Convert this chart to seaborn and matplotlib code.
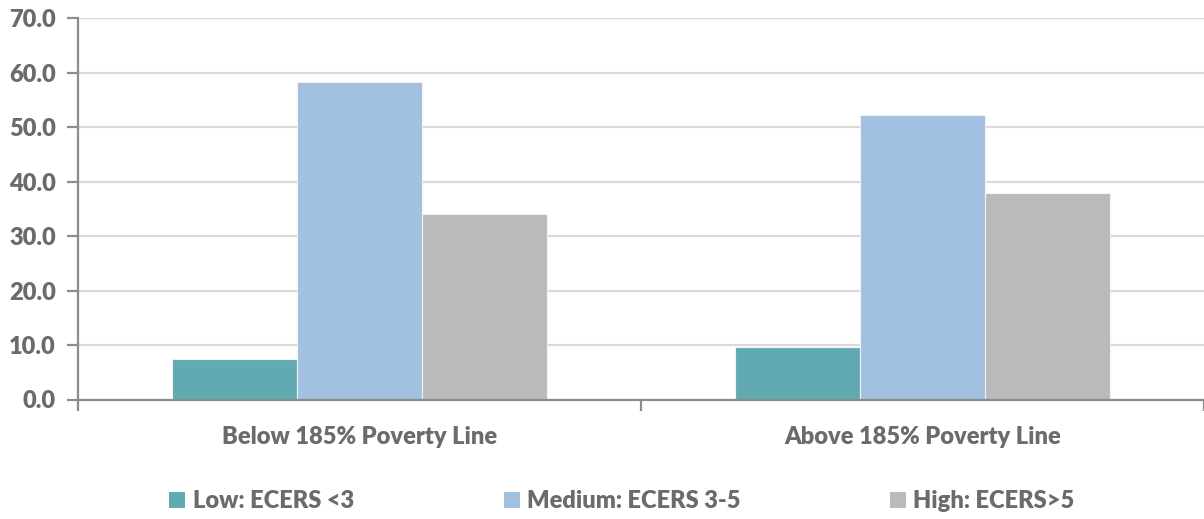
import matplotlib
matplotlib.use("Agg")
import matplotlib.pyplot as plt
import seaborn as sns
import pandas as pd
from matplotlib.patches import Patch
from matplotlib.ticker import FixedLocator

categories = ["Below 185% Poverty Line", "Above 185% Poverty Line"]
series = ["Low: ECERS <3", "Medium: ECERS 3-5", "High: ECERS>5"]
low_vals = [7.5, 9.7]
medium_vals = [58.2, 52.2]
high_vals = [34.1, 38.0]
y_ticks = [0, 10, 20, 30, 40, 50, 60, 70]

colors = ["#62AAB2", "#A2C0DF", "#BABABC"]
text_color = "#6B6B6D"

rows = []
for s, vals in zip(series, [low_vals, medium_vals, high_vals]):
    for c, v in zip(categories, vals):
        rows.append({"category": c, "series": s, "value": v})
df = pd.DataFrame(rows)

sns.set_theme(style="white")
plt.rcParams['font.family'] = ['Lato', 'DejaVu Sans']

fig = plt.figure(figsize=(12.04, 5.19), dpi=100)
ax = fig.add_axes([78/1204, 1-399.5/519, 1-78/1204, (399.5-18.2)/519])

sns.barplot(data=df, x="category", y="value", hue="series", order=categories,
            hue_order=series, palette=colors, saturation=1, width=0.667, ax=ax,
            edgecolor="#F2F2F2", linewidth=0.8, legend=False, errorbar=None)

ax.set_xlim(-0.5, 1.5)
ax.set_ylim(0, 70)
ax.set_yticks(y_ticks)
ax.set_yticklabels([f"{t:.1f}" for t in y_ticks])
ax.yaxis.grid(True, color="#D9D9D9", linewidth=1.6)
ax.set_axisbelow(True)
ax.set_xlabel("")
ax.set_ylabel("")

for sp in ["top", "right"]:
    ax.spines[sp].set_visible(False)
for sp in ["left", "bottom"]:
    ax.spines[sp].set_color("#8C8C8C")
    ax.spines[sp].set_linewidth(1.6)

fs = 17
ax.tick_params(axis="y", which="major", left=True, length=8, width=1.6,
               color="#8C8C8C", labelsize=fs, labelcolor=text_color, pad=8)
ax.tick_params(axis="x", which="major", bottom=False, labelsize=fs,
               labelcolor=text_color, pad=13)
ax.xaxis.set_minor_locator(FixedLocator([-0.5, 0.5, 1.5]))
ax.tick_params(axis="x", which="minor", bottom=True, length=8, width=1.6,
               color="#8C8C8C")
for lab in ax.get_yticklabels() + ax.get_xticklabels():
    lab.set_fontweight("heavy")

handles = [Patch(facecolor=c, edgecolor="none", label=s) for c, s in zip(colors, series)]
leg = fig.legend(handles=handles, loc="center", bbox_to_anchor=(622/1204, 1-501/519),
                 ncol=3, frameon=False, handlelength=0.68, handleheight=0.68,
                 handletextpad=0.3, columnspacing=6.35,
                 prop={"weight": "heavy", "size": fs})
for t in leg.get_texts():
    t.set_color(text_color)

fig.savefig("out.png", dpi=100)
